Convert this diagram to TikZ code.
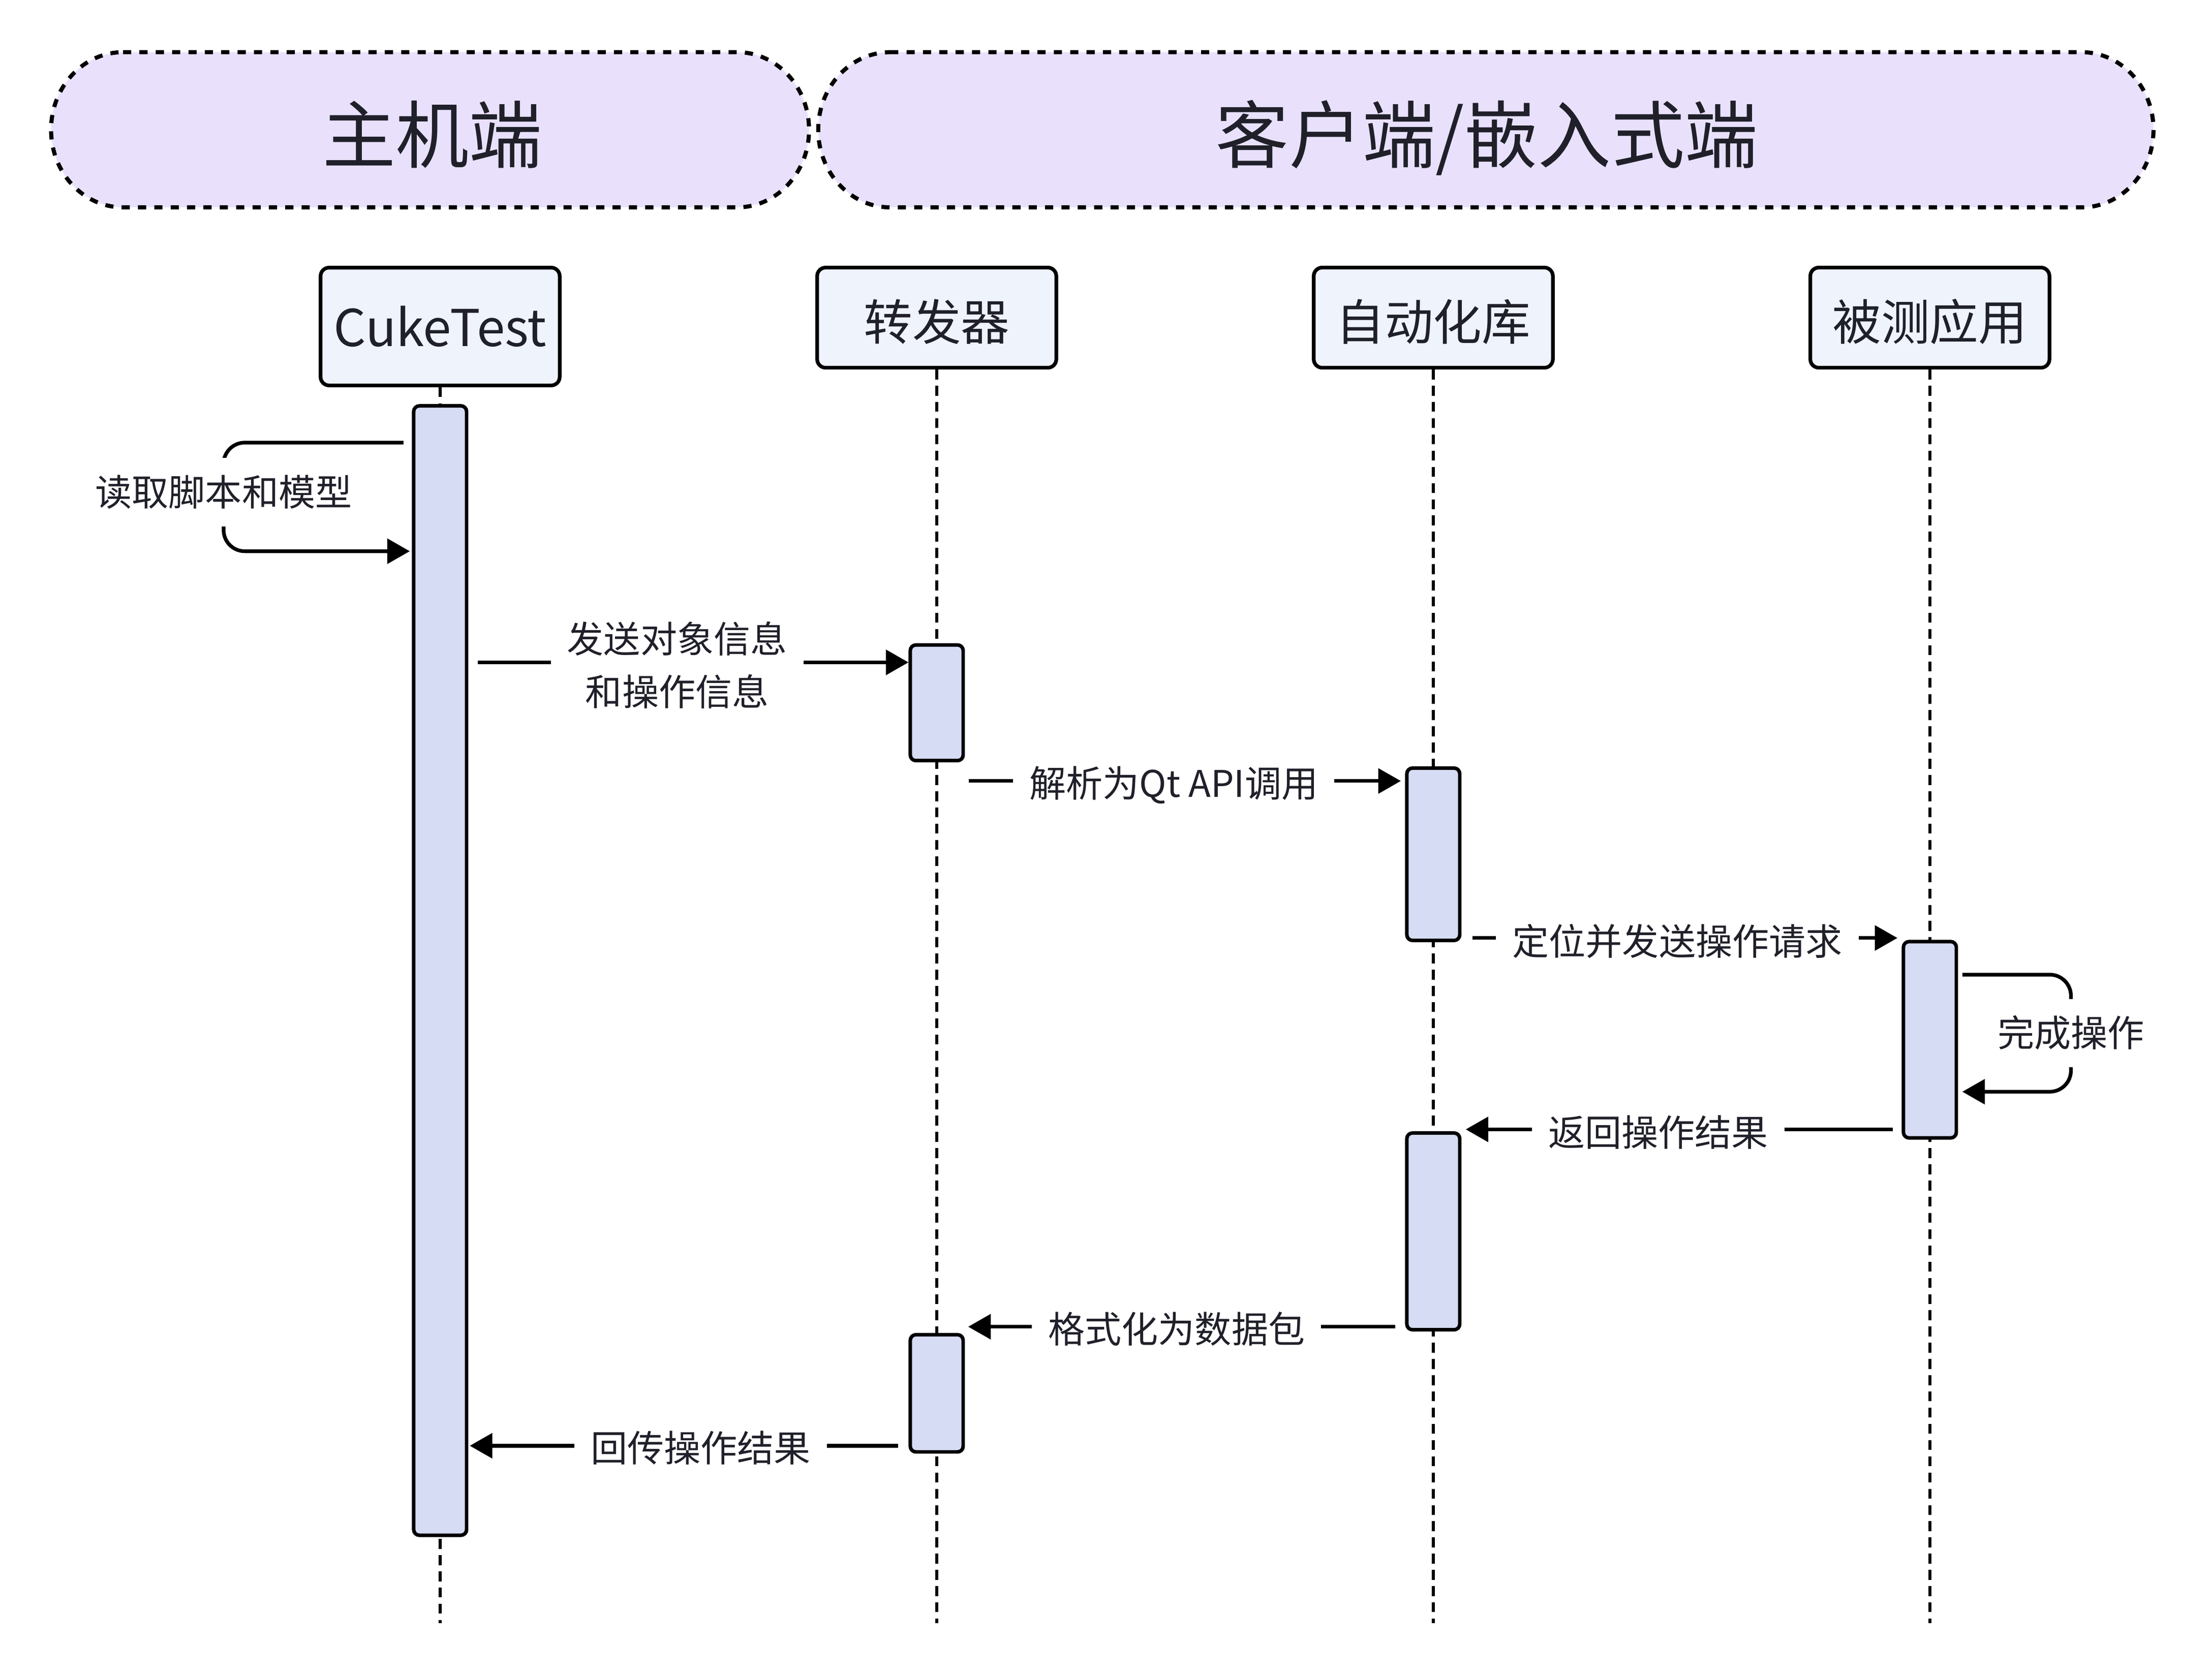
\documentclass[tikz,border=0pt]{standalone}
\usepackage{fontspec}
\setmainfont{Noto Sans CJK SC}
\usetikzlibrary{arrows.meta}
\definecolor{hdrfill}{HTML}{E9E1FC}
\definecolor{boxfill}{HTML}{EFF3FC}
\definecolor{actfill}{HTML}{D7DCF5}
\definecolor{ink}{HTML}{1F2029}
\begin{document}
\begin{tikzpicture}[x=1pt,y=-1pt,
  hdrline/.style={draw=black, line width=2.9pt, dash pattern=on 5.8pt off 5.8pt, fill=hdrfill},
  hdrtext/.style={text=ink, font=\fontsize{52}{60}\selectfont, inner sep=0pt, text height=43.7pt, text depth=5.2pt},
  part/.style={draw=black, line width=2.6pt, fill=boxfill, rounded corners=6pt, minimum width=169.5pt, inner sep=0pt, text=ink, font=\fontsize{34.5}{40}\selectfont},
  cjkpart/.style={part, minimum height=71pt, text height=36pt, text depth=4pt},
  life/.style={draw=black, line width=2.2pt, dash pattern=on 7pt off 4.5pt},
  act/.style={draw=black, line width=2.5pt, fill=actfill, rounded corners=4pt, minimum width=37.5pt, inner sep=0pt},
  msg/.style={draw=black, line width=2.6pt, -{Triangle[length=16pt,width=17.5pt]}},
  lblbase/.style={fill=white, text=ink, font=\fontsize{26}{37.7}\selectfont, inner xsep=11.5pt, inner ysep=12pt},
  lbl/.style={lblbase, text height=21.8pt, text depth=2.6pt}
]
\fill[white] (0,0) rectangle (1568,1187.5);
\useasboundingbox (0,0) rectangle (1568,1187.5);

% headers
\path[hdrline] (87.2,37) -- (522.5,37) arc[start angle=-90, end angle=90, x radius=51, y radius=55]
  -- (87.2,147) arc[start angle=90, end angle=270, x radius=51, y radius=55] -- cycle;
\path[hdrline] (631,37) -- (1475.5,37) arc[start angle=-90, end angle=90, x radius=51, y radius=55]
  -- (631,147) arc[start angle=90, end angle=270, x radius=51, y radius=55] -- cycle;
\node[hdrtext] (h1) at (306.5,96) {主机端};
\node[hdrtext] (h2) at (1054,96) {客户端/嵌入式端};

% participants
\node[part, minimum height=83.5pt, font=\fontsize{36}{42}\selectfont] (ct) at (312,231.5) {CukeTest};
\node[cjkpart] (fw) at (664,225.2) {转发器};
\node[cjkpart] (lib) at (1016,225.2) {自动化库};
\node[cjkpart] (app) at (1368,225.2) {被测应用};

% lifelines
\draw[life] (ct.south) -- (ct.south |- 0,1150.6);
\draw[life] (fw.south) -- (fw.south |- 0,1150.6);
\draw[life] (lib.south) -- (lib.south |- 0,1150.6);
\draw[life] (app.south) -- (app.south |- 0,1150.6);

% activation bars
\node[act, minimum height=800.7pt] (a1) at (312,688.1) {};
\node[act, minimum height=82pt] (f1) at (664,498.25) {};
\node[act, minimum height=83.1pt] (f2) at (664,987.8) {};
\node[act, minimum height=122.2pt] (l1) at (1016,605.65) {};
\node[act, minimum height=139.5pt] (l2) at (1016,873) {};
\node[act, minimum height=139.2pt] (p1) at (1368,737.15) {};

% messages
\draw[msg, rounded corners=15pt, shorten >=1.5pt] (a1.west |- 0,313.8) ++(-6,0) -- (158.5,313.8) -- (158.5,390.8) -- (a1.west |- 0,390.8);
\node[lbl] (t1) at (158.5,349) {读取脚本和模型};

\draw[msg] (a1.east |- 0,469.6) ++(6.5,0) -- (f1.west |- 0,469.6);
\node[lblbase, align=center] (t2) at (480,471.5) {发送对象信息\\和操作信息};

\draw[msg, shorten >=3pt] (f1.east |- 0,553.7) ++(2.7,0) -- (l1.west |- 0,553.7);
\node[lbl] (t3) at (832,555.5) {解析为Qt API调用};

\draw[msg, shorten >=3pt] (l1.east |- 0,665) ++(7.7,0) -- (p1.west |- 0,665);
\node[lbl] (t4) at (1189,667.5) {定位并发送操作请求};

\draw[msg, rounded corners=15pt, shorten >=3pt] (p1.east |- 0,691) ++(3,0) -- (1468,691) -- (1468,774) -- (p1.east |- 0,774);
\node[lbl] (t5) at (1468,732.5) {完成操作};

\draw[msg, shorten >=3pt] (p1.west |- 0,800.7) ++(-6.4,0) -- (l2.east |- 0,800.7);
\node[lbl] (t6) at (1175.5,803) {返回操作结果};

\draw[msg, shorten >=2.3pt] (l2.west |- 0,940.6) ++(-7,0) -- (f2.east |- 0,940.6);
\node[lbl] (t7) at (834,942.5) {格式化为数据包};

\draw[msg, shorten >=1pt] (f2.west |- 0,1025) ++(-7.4,0) -- (a1.east |- 0,1025);
\node[lbl] (t8) at (496.7,1026.7) {回传操作结果};
\end{tikzpicture}
\end{document}
